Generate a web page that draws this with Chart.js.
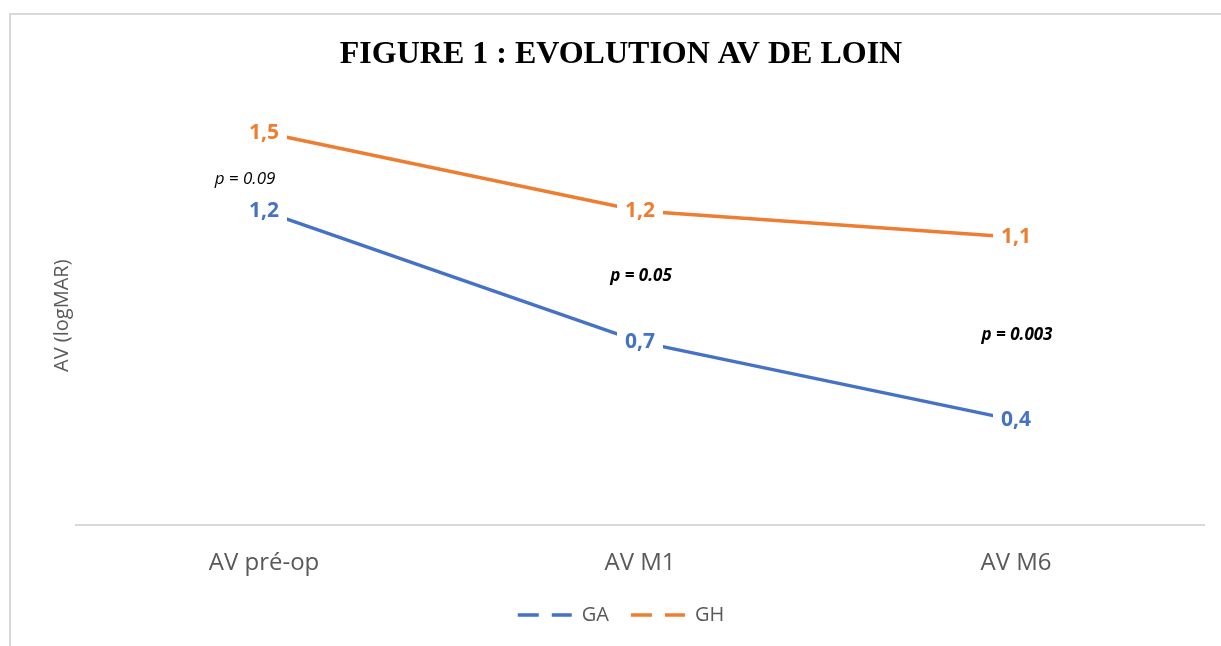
<!DOCTYPE html>
<html><head><meta charset="utf-8">
<script src="https://cdn.jsdelivr.net/npm/chart.js@4.4.1/dist/chart.umd.min.js"></script>
<style>
html,body{margin:0;padding:0;background:#fff;overflow:hidden;}
#frame{position:absolute;left:9px;top:13px;width:1300px;height:700px;border-left:2px solid #d9d9d9;border-top:2px solid #d9d9d9;}
#wrap{position:absolute;left:0;top:0;width:1221px;height:646px;}
</style></head><body>
<div id="frame"></div>
<div id="wrap"><canvas id="c" width="1221" height="646"></canvas></div>
<script>
const categories = ['AV pré-op', 'AV M1', 'AV M6'];
const seriesGA = [1.2, 0.7, 0.4];
const seriesGH = [1.5, 1.2, 1.1];
const pValues = ['p = 0.09', 'p = 0.05', 'p = 0.003'];
const pBold = [false, true, true];

const BLUE = '#4472C4', ORANGE = '#ED7D31', GREY = '#595959';
const LABEL_FONT = '"Open Sans", sans-serif';

const valueLabels = {
  id: 'valueLabels',
  afterDatasetsDraw(chart, args, opts) {
    const ctx = chart.ctx;
    ctx.save();
    ctx.font = 'bold ' + opts.size + 'px ' + LABEL_FONT;
    ctx.textAlign = 'center';
    ctx.textBaseline = 'middle';
    chart.data.datasets.forEach((ds, i) => {
      const meta = chart.getDatasetMeta(i);
      meta.data.forEach((pt, j) => {
        const txt = String(ds.data[j]).replace('.', ',');
        const w = ctx.measureText(txt).width;
        ctx.fillStyle = '#fff';
        ctx.fillRect(pt.x - w / 2 - opts.padX, pt.y - opts.boxH / 2, w + 2 * opts.padX, opts.boxH);
        ctx.fillStyle = ds.borderColor;
        ctx.fillText(txt, pt.x, pt.y + opts.dy);
      });
    });
    ctx.restore();
  }
};

const pLabels = {
  id: 'pLabels',
  afterDatasetsDraw(chart, args, opts) {
    const ctx = chart.ctx;
    const xs = chart.scales.x, ys = chart.scales.y;
    ctx.save();
    ctx.textAlign = 'center';
    ctx.textBaseline = 'middle';
    ctx.fillStyle = '#000';
    pValues.forEach((t, j) => {
      ctx.font = 'italic ' + (pBold[j] ? 'bold ' : '') + opts.size + 'px ' + LABEL_FONT;
      const mid = (seriesGA[j] + seriesGH[j]) / 2;
      const x = xs.getPixelForValue(j) + opts.dx[j];
      const y = ys.getPixelForValue(mid) + opts.dy[j];
      ctx.fillText(t, x, y);
    });
    ctx.restore();
  }
};

new Chart(document.getElementById('c'), {
  type: 'line',
  data: {
    labels: categories,
    datasets: [
      { label: 'GA', data: seriesGA, borderColor: BLUE, backgroundColor: BLUE, borderWidth: 3.5, pointRadius: 0, tension: 0 },
      { label: 'GH', data: seriesGH, borderColor: ORANGE, backgroundColor: ORANGE, borderWidth: 3.5, pointRadius: 0, tension: 0 }
    ]
  },
  options: {
    responsive: false,
    animation: false,
    layout: { padding: { left: 38, right: 17, top: 0, bottom: 11 } },
    scales: {
      x: {
        offset: true,
        grid: { display: false, drawTicks: false },
        border: { display: true, color: '#d9d9d9', width: 2 },
        ticks: { color: GREY, font: { family: LABEL_FONT, size: 24 }, padding: 24 },
        afterFit(s) { s.height = 58; }
      },
      y: {
        min: 0, max: 1.6,
        grid: { display: false, drawTicks: false },
        border: { display: false },
        ticks: { display: false },
        title: { display: true, text: 'AV (logMAR)', color: GREY, font: { family: LABEL_FONT, size: 20 }, padding: { top: 12, bottom: 0 } },
        afterFit(s) { s.width = 38; }
      }
    },
    plugins: {
      title: {
        display: true,
        text: 'FIGURE 1 : EVOLUTION AV DE LOIN',
        color: '#000',
        font: { family: '"Liberation Serif", "Times New Roman", serif', size: 32, weight: 'bold' },
        padding: { top: 36, bottom: 32 }
      },
      legend: {
        position: 'bottom',
        labels: {
          usePointStyle: true,
          pointStyleWidth: 54,
          padding: 22,
          color: GREY,
          font: { family: LABEL_FONT, size: 20 },
          generateLabels(chart) {
            return chart.data.datasets.map((ds, i) => ({
              text: ds.label, fillStyle: ds.borderColor, strokeStyle: ds.borderColor,
              lineWidth: 3.5, lineDash: [21, 13], pointStyle: 'line', hidden: false,
              datasetIndex: i, fontColor: GREY
            }));
          }
        }
      },
      tooltip: { enabled: false },
      valueLabels: { size: 21, padX: 8, boxH: 26, dy: 0 },
      pLabels: { size: 17, dx: [-19, 1, 1], dy: [7, 0, 6] }
    }
  },
  plugins: [valueLabels, pLabels]
});
</script>
</body></html>
